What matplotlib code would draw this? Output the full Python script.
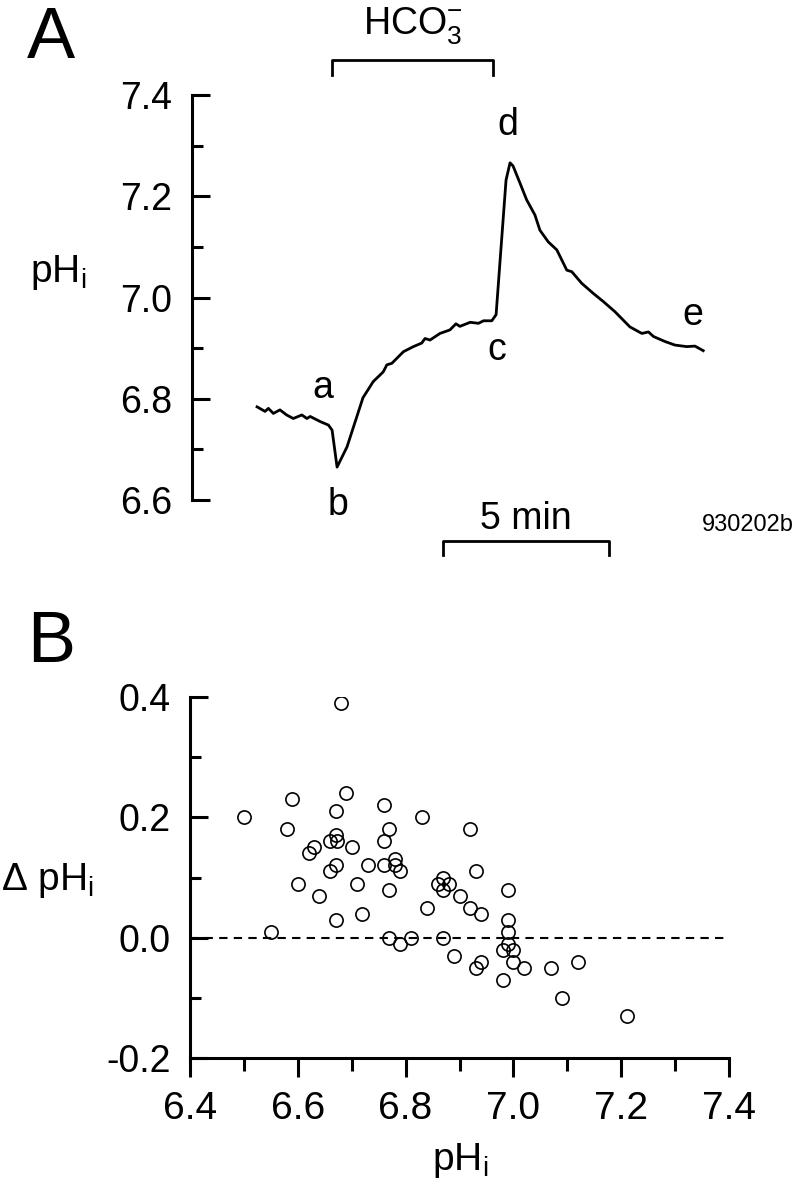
import matplotlib
matplotlib.use("Agg")
import matplotlib.pyplot as plt
from matplotlib.ticker import MultipleLocator, FormatStrFormatter

plt.rcParams["font.family"] = ["Liberation Sans", "DejaVu Sans"]
plt.rcParams["mathtext.fontset"] = "custom"
plt.rcParams["mathtext.rm"] = "Liberation Sans"
plt.rcParams["mathtext.it"] = "Liberation Sans"
plt.rcParams["mathtext.default"] = "regular"
plt.rcParams["axes.unicode_minus"] = False

# ── Panel A: pHi trace (time in min, pHi) ─────────────────────────────────
trace_t = [0.00, 0.24, 0.34, 0.49, 0.69, 0.89, 1.09, 1.35, 1.50, 1.60, 1.90, 2.15,
           2.26, 2.41, 2.71, 3.19, 3.50, 3.80, 3.91, 4.06, 4.41, 4.71, 4.96, 5.06,
           5.21, 5.51, 5.81, 5.99, 6.11, 6.42, 6.67, 6.82, 7.07, 7.20, 7.50, 7.62,
           7.71, 7.92, 8.12, 8.37, 8.52, 8.77, 9.03, 9.33, 9.48, 9.78, 10.13, 10.43,
           10.78, 11.23, 11.59, 11.79, 11.94, 12.29, 12.59, 12.94, 13.19, 13.44]
trace_ph = [6.784, 6.775, 6.781, 6.771, 6.778, 6.768, 6.761, 6.768, 6.761, 6.765, 6.755, 6.748,
            6.738, 6.665, 6.705, 6.802, 6.834, 6.853, 6.867, 6.870, 6.893, 6.903, 6.910, 6.919,
            6.916, 6.929, 6.936, 6.948, 6.943, 6.951, 6.949, 6.954, 6.954, 6.966, 7.232, 7.266,
            7.260, 7.226, 7.193, 7.163, 7.133, 7.110, 7.094, 7.054, 7.051, 7.028, 7.008, 6.992,
            6.972, 6.942, 6.929, 6.932, 6.923, 6.913, 6.906, 6.903, 6.904, 6.895]

point_labels = ["a", "b", "c", "d", "e"]
point_t = [1.99, 2.44, 7.23, 7.56, 13.13]
point_ph = [6.821, 6.590, 6.896, 7.341, 6.966]

hco3_start, hco3_end = 2.26, 7.11
scale_start, scale_end = 5.60, 10.60

# ── Panel B: delta pHi vs pHi ─────────────────────────────────────────────
phi = [6.68, 6.50, 6.59, 6.69, 6.67, 6.76, 6.58, 6.77, 6.67, 6.66, 6.672, 6.76,
       6.63, 6.70, 6.62, 6.78, 6.67, 6.73, 6.76, 6.78, 6.66, 6.79, 6.60, 6.71,
       6.77, 6.64, 6.72, 6.67,
       6.83, 6.92, 6.93, 6.99, 6.87, 6.86, 6.88, 6.87, 6.90, 6.84, 6.92, 6.94,
       6.99, 6.99, 6.81, 6.79, 6.87, 6.99, 6.98, 7.00, 6.89, 6.94, 6.93, 7.00,
       7.02, 7.07, 7.12, 6.98, 7.09, 7.21, 6.55, 6.77]
dphi = [0.39, 0.20, 0.23, 0.24, 0.21, 0.22, 0.18, 0.18, 0.17, 0.16, 0.16, 0.16,
        0.15, 0.15, 0.14, 0.13, 0.12, 0.12, 0.12, 0.12, 0.11, 0.11, 0.09, 0.09,
        0.08, 0.07, 0.04, 0.03,
        0.20, 0.18, 0.11, 0.08, 0.10, 0.09, 0.09, 0.08, 0.07, 0.05, 0.05, 0.04,
        0.03, 0.01, 0.00, -0.01, 0.00, -0.01, -0.02, -0.02, -0.03, -0.04, -0.05, -0.04,
        -0.05, -0.05, -0.04, -0.07, -0.10, -0.13, 0.01, 0.00]

W, H = 798, 1200
fig = plt.figure(figsize=(W / 100, H / 100), dpi=100)


def fx(px):
    return px / W


def fy(py):
    return 1 - py / H


# ── Panel A ───────────────────────────────────────────────────────────────
axA = fig.add_axes([fx(192), fy(500), fx(760 - 192), (500 - 95) / H])
axA.plot(trace_t, trace_ph, color="black", lw=2.0)
axA.set_xlim(-1.96, 15.15)
axA.set_ylim(6.6, 7.4)
for s in ["top", "right", "bottom"]:
    axA.spines[s].set_visible(False)
axA.spines["left"].set_linewidth(2.2)
axA.set_xticks([])
axA.yaxis.set_major_locator(MultipleLocator(0.2))
axA.yaxis.set_minor_locator(MultipleLocator(0.1))
axA.yaxis.set_major_formatter(FormatStrFormatter("%.1f"))
axA.tick_params(axis="y", which="major", direction="in", length=13, width=2.2,
                labelsize=27, pad=14)
axA.tick_params(axis="y", which="minor", direction="in", length=8, width=2.2)

for lbl, t, p in zip(point_labels, point_t, point_ph):
    axA.text(t, p, lbl, fontsize=27, ha="center", va="center")

# HCO3- bar
bar_y, bar_tick = 7.469, 7.440
axA.plot([hco3_start, hco3_start, hco3_end, hco3_end], [bar_tick, bar_y, bar_y, bar_tick],
         color="black", lw=2.0, clip_on=False)
axA.text((hco3_start + hco3_end) / 2, 7.535, r"HCO$_3^{-}$", fontsize=27,
         ha="center", va="center", clip_on=False)

# 5 min scale bar
sb_y, sb_tick = 6.519, 6.491
axA.plot([scale_start, scale_start, scale_end, scale_end], [sb_tick, sb_y, sb_y, sb_tick],
         color="black", lw=2.0, clip_on=False)
axA.text((scale_start + scale_end) / 2, 6.563, "5 min", fontsize=27,
         ha="center", va="center", clip_on=False)

fig.text(fx(794), fy(525), "930202b", fontsize=17, ha="right", va="center")
fig.text(fx(58), fy(272), r"pH$_{i}$", fontsize=28, ha="center", va="center")
fig.text(fx(27), fy(58), "A", fontsize=52, ha="left", va="baseline")

# ── Panel B ───────────────────────────────────────────────────────────────
axB = fig.add_axes([fx(190), fy(1058), fx(729 - 190), (1058 - 697) / H])
axB.axhline(0, color="black", lw=1.5, ls=(0, (4, 3)))
axB.plot(phi, dphi, "o", mfc="none", mec="black", ms=9.5, mew=1.2)
axB.set_xlim(6.4, 7.4)
axB.set_ylim(-0.2, 0.4)
for s in ["top", "right"]:
    axB.spines[s].set_visible(False)
for s in ["left", "bottom"]:
    axB.spines[s].set_linewidth(2.2)
axB.xaxis.set_major_locator(MultipleLocator(0.2))
axB.xaxis.set_minor_locator(MultipleLocator(0.1))
axB.yaxis.set_major_locator(MultipleLocator(0.2))
axB.yaxis.set_minor_locator(MultipleLocator(0.1))
axB.xaxis.set_major_formatter(FormatStrFormatter("%.1f"))
axB.yaxis.set_major_formatter(FormatStrFormatter("%.1f"))
axB.tick_params(axis="x", which="major", direction="out", length=14, width=2.2,
                labelsize=28, pad=10)
axB.tick_params(axis="x", which="minor", direction="out", length=9, width=2.2)
axB.tick_params(axis="y", which="major", direction="in", length=13, width=2.2,
                labelsize=27, pad=14)
axB.tick_params(axis="y", which="minor", direction="in", length=8, width=2.2)

fig.text(fx(48), fy(880), r"Δ pH$_{i}$", fontsize=28, ha="center", va="center")
fig.text(fx(460), fy(1160), r"pH$_{i}$", fontsize=28, ha="center", va="center")
fig.text(fx(27), fy(662), "B", fontsize=52, ha="left", va="baseline")

fig.savefig("out.png", dpi=100)
